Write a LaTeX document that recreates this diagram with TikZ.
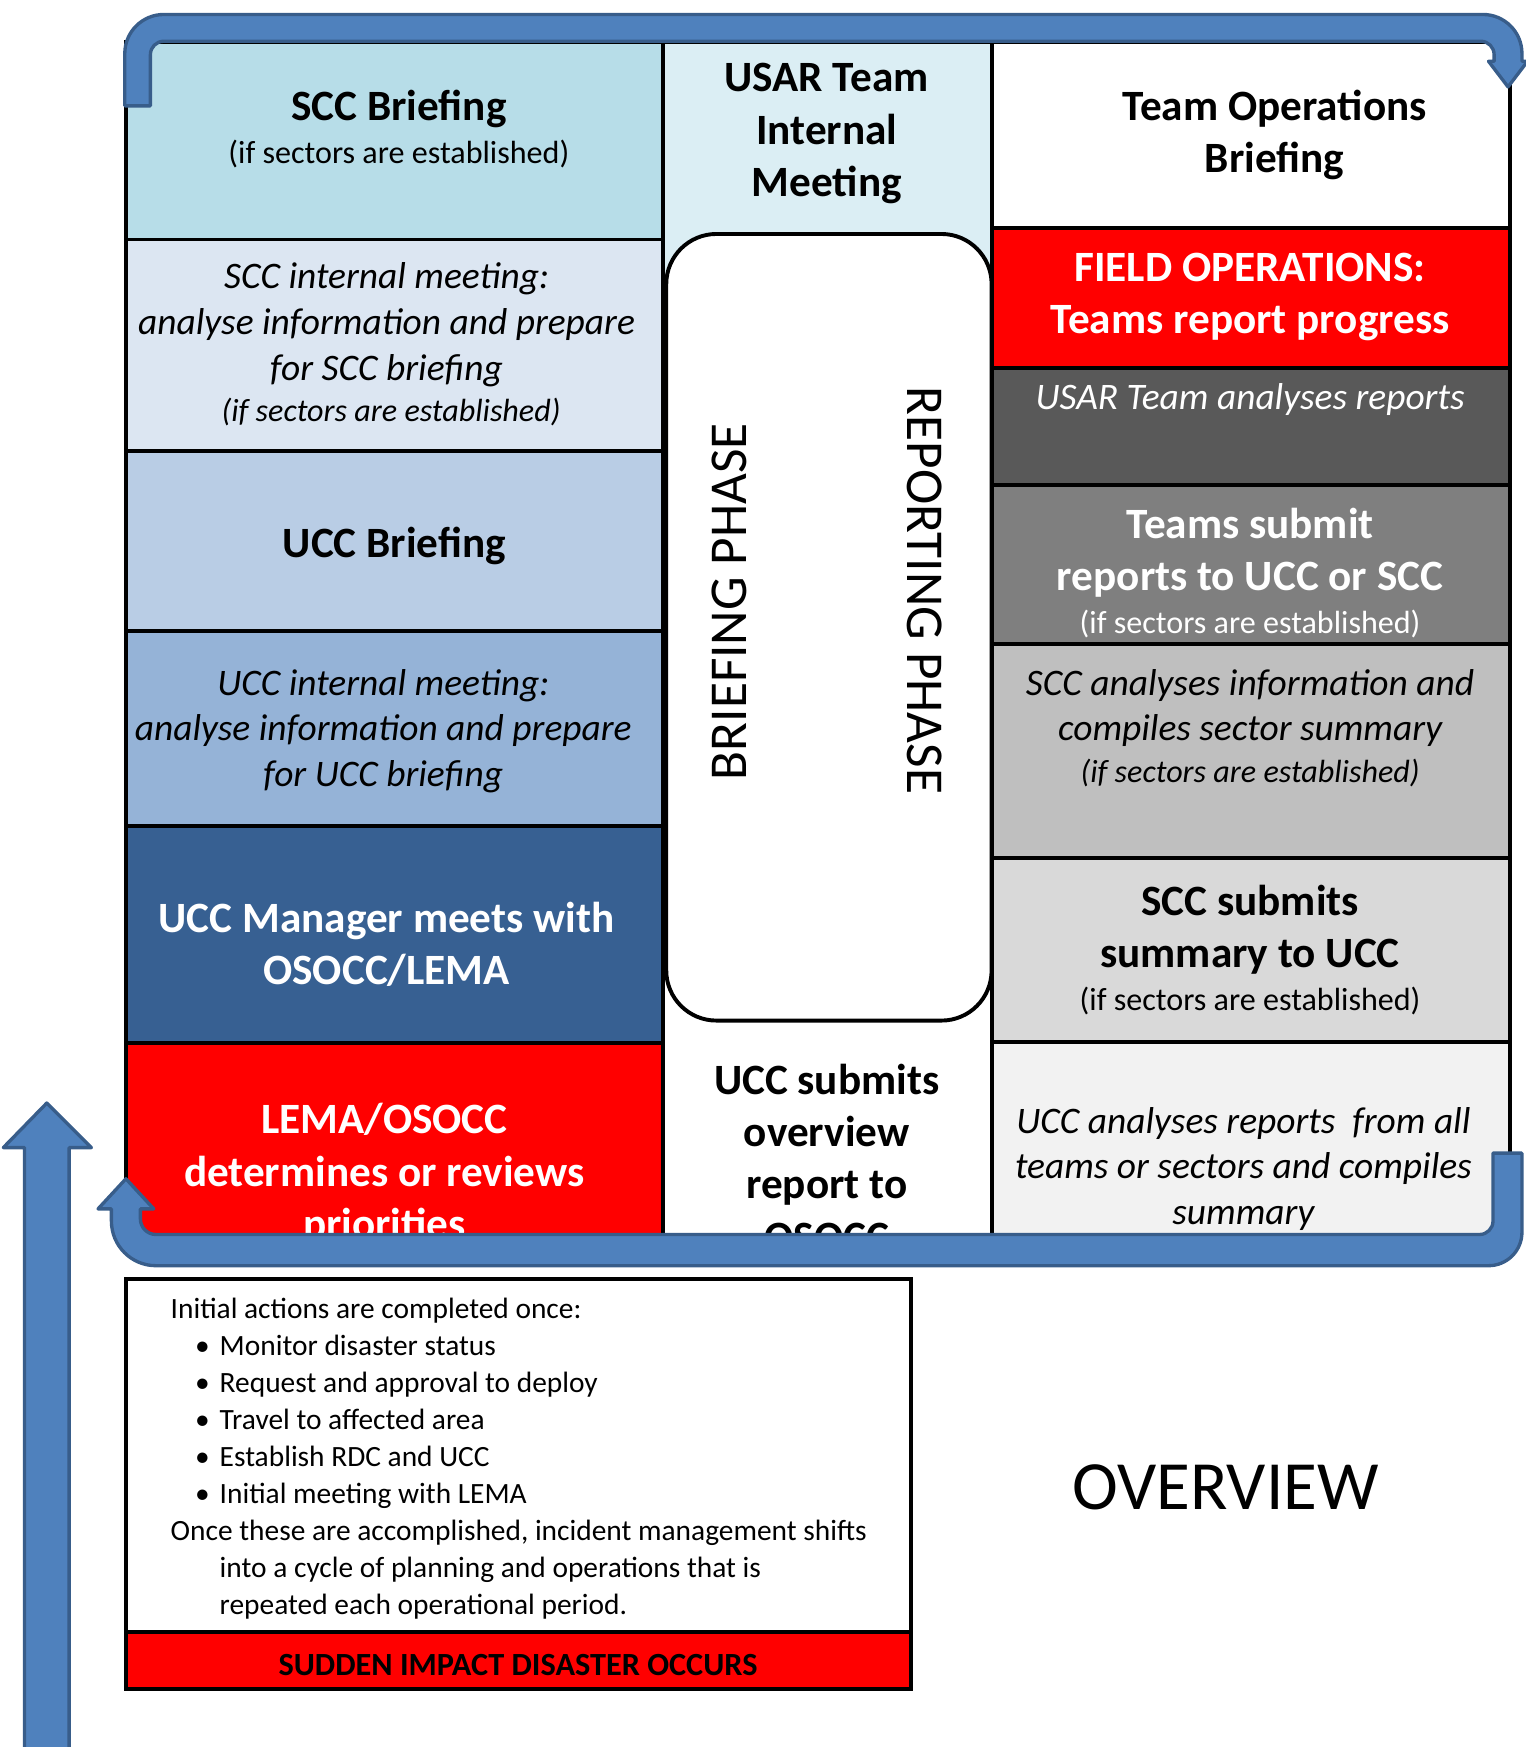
\documentclass[tikz,border=0pt]{standalone}
\usepackage{fontspec}
\setmainfont{Carlito}
\begin{document}
\begin{tikzpicture}[x=1pt,y=-1pt,
  cell/.style={draw=black,line width=3.5pt},
  band/.style={fill=bandfill,draw=bandline,line width=3pt,line join=round},
  head/.style={align=center,font=\fontsize{38.8}{47}\selectfont\bfseries},
  body/.style={align=center,font=\fontsize{33.6}{41}\selectfont\itshape},
  note/.style={align=center,font=\fontsize{28.8}{34}\selectfont},
  phase/.style={font=\fontsize{47.8}{56}\selectfont}]
  \definecolor{sccbrief}{HTML}{B7DDE8}
  \definecolor{sccint}{HTML}{DCE6F2}
  \definecolor{uccbrief}{HTML}{B9CDE5}
  \definecolor{uccint}{HTML}{95B3D7}
  \definecolor{uccmgr}{HTML}{376092}
  \definecolor{usarmeet}{HTML}{DBEEF4}
  \definecolor{greyA}{HTML}{595959}
  \definecolor{greyB}{HTML}{7F7F7F}
  \definecolor{greyC}{HTML}{BFBFBF}
  \definecolor{greyD}{HTML}{D9D9D9}
  \definecolor{greyE}{HTML}{F2F2F2}
  \definecolor{bandfill}{HTML}{4F81BD}
  \definecolor{bandline}{HTML}{385D8A}
  \useasboundingbox (0,0) rectangle (1369,1568);
  \filldraw[cell,fill=sccbrief] (113,38) rectangle (595,215);
  \filldraw[cell,fill=sccint] (113,215) rectangle (595,405);
  \filldraw[cell,fill=uccbrief] (113,405) rectangle (595,566);
  \filldraw[cell,fill=uccint] (113,566) rectangle (595,741);
  \filldraw[cell,fill=uccmgr] (113,741) rectangle (595,936);
  \filldraw[cell,fill=red] (113,936) rectangle (595,1112);
  \filldraw[cell,fill=usarmeet] (595,38) rectangle (890,300);
  \filldraw[cell,fill=white] (595,700) rectangle (890,1112);
  \filldraw[cell,fill=white] (890,38) rectangle (1355,205);
  \filldraw[cell,fill=red] (890,205) rectangle (1355,330);
  \filldraw[cell,fill=greyA] (890,330) rectangle (1355,435);
  \filldraw[cell,fill=greyB] (890,435) rectangle (1355,578);
  \filldraw[cell,fill=greyC] (890,578) rectangle (1355,770);
  \filldraw[cell,fill=greyD] (890,770) rectangle (1355,935);
  \filldraw[cell,fill=greyE] (890,935) rectangle (1355,1112);
  \filldraw[cell,fill=white,rounded corners=45pt] (598,210) rectangle (890,916);
  \node[head] (sccb) at (358,98) {SCC Briefing};
  \node[note] (sccbn) at (358,138) {(if sectors are established)};
  \node[body] (scci) at (347,291.5) {SCC internal meeting:\\analyse information and prepare\\for SCC briefing};
  \node[note,font=\fontsize{28.8}{34}\selectfont\itshape] (sccin) at (351,370) {(if sectors are established)};
  \node[head] (uccb) at (354,490) {UCC Briefing};
  \node[body] (ucci) at (344,656) {UCC internal meeting:\\analyse information and prepare\\for UCC briefing};
  \node[head,text=white] (uccm) at (347,847.5) {UCC Manager meets with\\OSOCC/LEMA};
  \node[head,text=white] (lema) at (345,1054) {LEMA/OSOCC\\determines or reviews\\priorities};
  \node[head] (usar) at (742,120) {USAR Team\\Internal\\Meeting};
  \node[phase,rotate=90] (brief) at (655,540) {BRIEFING PHASE};
  \node[phase,rotate=-90] (report) at (830,530) {REPORTING PHASE};
  \node[head] (uccs) at (742,1039) {UCC submits\\overview\\report to\\OSOCC};
  \node[head] (teamops) at (1144,121) {Team Operations\\Briefing};
  \node[head,text=white] (fieldops) at (1122,266.5) {FIELD OPERATIONS:\\Teams report progress};
  \node[body,text=white] (usara) at (1122,359) {USAR Team analyses reports};
  \node[head,text=white] (teamsub) at (1122,496) {Teams submit\\reports to UCC or SCC};
  \node[note,text=white] (teamsubn) at (1122,560) {(if sectors are established)};
  \node[body] (scca) at (1122,635.5) {SCC analyses information and\\compiles sector summary};
  \node[note,font=\fontsize{28.8}{34}\selectfont\itshape] (sccan) at (1122,694) {(if sectors are established)};
  \node[head] (sccs) at (1122,834.5) {SCC submits\\summary to UCC};
  \node[note] (sccsn) at (1122,898) {(if sectors are established)};
  \node[body] (ucca) at (1116,1049) {UCC analyses reports~ from all\\teams or sectors and compiles\\summary};
  \filldraw[band] (112,95) -- (112,48) arc (180:270:35) -- (1331,13) arc (270:360:35) -- (1366,55) -- (1371,55) -- (1353.5,78) -- (1336,55) -- (1341,55) -- (1341,49) arc (0:-90:12) -- (147,37) arc (270:180:12) -- (135,95) -- cycle;
  \filldraw[band] (1340,1035) -- (1366,1035) -- (1366,1106) arc (0:90:30) -- (140,1136) arc (90:180:40) -- (100,1085) -- (88,1085) -- (113,1058) -- (138,1085) -- (126,1085) -- (126,1094) arc (180:90:14) -- (1328,1108) arc (90:0:12) -- cycle;
  \filldraw[band] (22,1575) -- (22,1030) -- (3,1030) -- (42,990) -- (82,1030) -- (62,1030) -- (62,1575) -- cycle;
  \filldraw[cell,fill=white] (113,1148) rectangle (818,1465);
  \filldraw[cell,fill=red] (113,1465) rectangle (818,1516);
  \node[anchor=north west,inner sep=0pt,align=left,font=\fontsize{26.4}{33.2}\selectfont] (initial) at (153,1165) {Initial actions are completed once:\\
    \hspace*{22pt}\makebox[22pt][l]{\textbullet}Monitor disaster status\\
    \hspace*{22pt}\makebox[22pt][l]{\textbullet}Request and approval to deploy\\
    \hspace*{22pt}\makebox[22pt][l]{\textbullet}Travel to affected area\\
    \hspace*{22pt}\makebox[22pt][l]{\textbullet}Establish RDC and UCC\\
    \hspace*{22pt}\makebox[22pt][l]{\textbullet}Initial meeting with LEMA\\
    Once these are accomplished, incident management shifts\\
    \hspace*{44pt}into a cycle of planning and operations that is\\
    \hspace*{44pt}repeated each operational period.};
  \node[font=\fontsize{29}{34}\selectfont\bfseries] (sudden) at (465,1494) {SUDDEN IMPACT DISASTER OCCURS};
  \node[font=\fontsize{62}{72}\selectfont] (overview) at (1100,1335) {OVERVIEW};
\end{tikzpicture}
\end{document}
